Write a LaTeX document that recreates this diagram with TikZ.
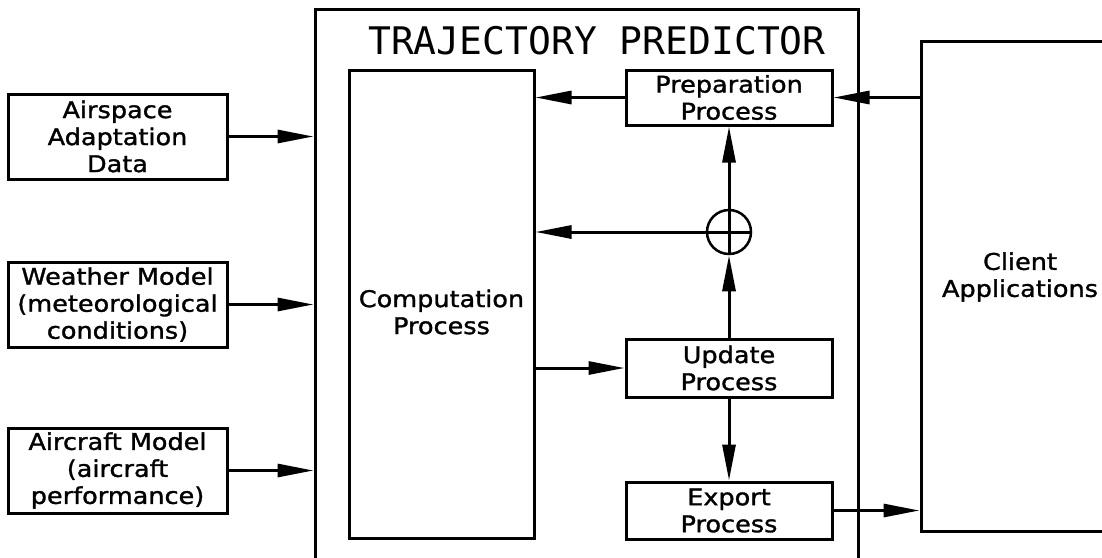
\documentclass[tikz,border=0pt]{standalone}
\usepackage{fontspec}
\setmainfont{DejaVu Sans}
\newfontfamily\boxfont[FakeStretch=1.11,FakeBold=1.3]{DejaVu Sans}
\newfontfamily\titlefont{DejaVu Sans Mono}
\usetikzlibrary{arrows.meta}
\begin{document}
\begin{tikzpicture}[x=1pt,y=-1pt,
  txt/.style={font=\boxfont\fontsize{23}{27}\selectfont,align=center},
  box/.style={draw,line width=3pt,inner sep=0pt,txt},
  arr/.style={line width=3pt,-{Triangle[length=36pt,width=13pt]}},
  ln/.style={line width=3pt}]
\useasboundingbox (0,0) rectangle (1102,557);
% main frame
\node[box,minimum width=543pt,minimum height=600pt] (tp) at (586.5,309) {};
\node[font=\titlefont\fontsize{38}{40}\selectfont] (title) at (597,41) {TRAJECTORY PREDICTOR};
% inputs
\node[box,minimum width=219pt,minimum height=85pt] (air) at (117.5,136.5) {Airspace\\Adaptation\\Data};
\node[box,minimum width=219pt,minimum height=85pt] (wx) at (117.5,304.5) {Weather Model\\(meteorological\\conditions)};
\node[box,minimum width=219pt,minimum height=85pt] (ac) at (117.5,470.5) {Aircraft Model\\(aircraft\\performance)};
% computation
\node[box,minimum width=185pt,minimum height=468pt,
  label={[txt,yshift=-8pt]center:Computation\\Process}] (comp) at (441.5,304) {};
% processes
\node[box,minimum width=206pt,minimum height=55pt] (prep) at (729,97.5) {Preparation\\Process};
\node[draw,circle,line width=2.5pt,minimum size=44pt,inner sep=0pt] (sum) at (729,232) {};
\node[box,minimum width=206pt,minimum height=58pt] (upd) at (729,368) {Update\\Process};
\node[box,minimum width=206pt,minimum height=57pt] (exp) at (729,510.5) {Export\\Process};
% client
\node[box,minimum width=229pt,minimum height=490pt,
  label={[txt,xshift=-15.5pt,yshift=9pt]center:Client\\Applications}] (client) at (1035.5,286) {};
% connectors
\draw[arr] (air.east) -- (air.east -| tp.west);
\draw[arr] (wx.east) -- (wx.east -| tp.west);
\draw[arr] (ac.east) -- (ac.east -| tp.west);
\draw[arr] (client.west |- prep.east) -- (prep.east);
\draw[arr] (prep.west) -- (prep.west -| comp.east);
\draw[arr] (sum.east) -- (sum.east -| comp.east);
\draw[ln] (sum.north) -- (sum.south);
\draw[arr] (upd.north) -- (sum.south);
\draw[arr] (sum.north) -- (prep.south);
\draw[arr] (upd.west -| comp.east) -- (upd.west);
\draw[arr] (upd.south) -- (exp.north);
\draw[arr] (exp.east) -- (exp.east -| client.west);
\end{tikzpicture}
\end{document}
